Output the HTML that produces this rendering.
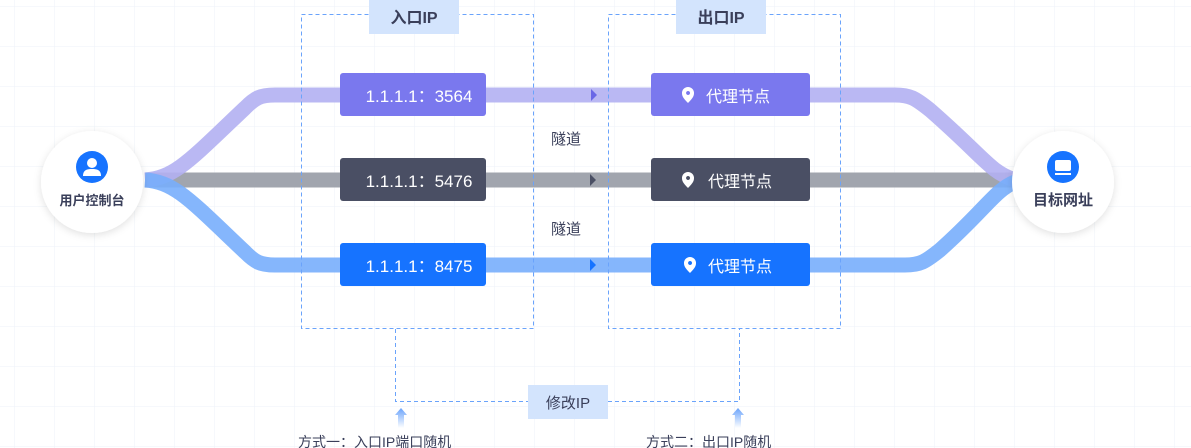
<!DOCTYPE html>
<html><head><meta charset="utf-8"><style>
body{margin:0;width:1191px;height:448px;overflow:hidden;background:#fff;font-family:"Liberation Sans","Noto Sans CJK SC",sans-serif;}
svg{display:block}
</style></head><body>
<svg width="1191" height="448" xmlns="http://www.w3.org/2000/svg" font-family="Liberation Sans, Noto Sans CJK SC, sans-serif">
<defs>
<pattern id="g" x="14" y="6" width="40" height="40" patternUnits="userSpaceOnUse">
<path d="M0 0V40M0 0H40" stroke="#edf2f8" stroke-width="1" fill="none"/>
</pattern>
<filter id="sh" x="-30%" y="-30%" width="160%" height="160%"><feDropShadow dx="0" dy="2" stdDeviation="4" flood-color="#000" flood-opacity="0.12"/></filter>
<linearGradient id="ua" x1="0" y1="0" x2="0" y2="1"><stop offset="0" stop-color="#6aa3fb"/><stop offset="1" stop-color="#6aa3fb" stop-opacity="0"/></linearGradient>
</defs>
<rect width="1191" height="448" fill="url(#g)"/>
<g fill="none" stroke-width="15" stroke-linejoin="round">
<path d="M145 180 H1015" stroke="#a1a5ae"/>
<path d="M145 180 C175 178,190 160,245 108 C255 98,260 95,275 95 H895 C910 95,915 98,930 110 C985 158,990 172,1015 180" stroke="#b3b0f2" opacity="0.9"/>
<path d="M145 180 C175 182,190 200,245 252 C255 262,260 265,275 265 H905 C920 265,925 262,940 250 C985 210,995 190,1015 182" stroke="#78aefc" opacity="0.9"/>
</g>
<g fill="none" stroke="#6aa3fb" stroke-dasharray="4 3" stroke-width="1">
<rect x="301.5" y="14.5" width="232" height="314"/>
<rect x="608.5" y="14.5" width="232" height="314"/>
<path d="M395.5 329 V401.5 H528 M608 401.5 H739.5 V329"/>
</g>
<rect x="369" y="0" width="90" height="34" fill="#d3e4fd"/>
<rect x="676" y="0" width="90" height="34" fill="#d3e4fd"/>
<text x="414" y="23" text-anchor="middle" font-size="16" font-weight="bold" fill="#3a3f5a">入口IP</text>
<text x="721" y="23" text-anchor="middle" font-size="16" font-weight="bold" fill="#3a3f5a">出口IP</text>
<rect x="340" y="73" width="146" height="43" rx="3" fill="#7a78ee"/>
<rect x="340" y="158" width="146" height="43" rx="3" fill="#4a4f64"/>
<rect x="340" y="243" width="146" height="43" rx="3" fill="#1673ff"/>
<g font-size="17" fill="#fff" text-anchor="middle">
<text x="419" y="102">1.1.1.1：3564</text>
<text x="419" y="187">1.1.1.1：5476</text>
<text x="419" y="272">1.1.1.1：8475</text>
</g>
<rect x="651" y="73" width="159" height="43" rx="3" fill="#7a78ee"/>
<rect x="651" y="158" width="159" height="43" rx="3" fill="#4a4f64"/>
<rect x="651" y="243" width="159" height="43" rx="3" fill="#1673ff"/>
<g fill="#fff">
<path d="M688 103 C683 98,682 96,682 93 A6 6 0 0 1 694 93 C694 96,693 98,688 103Z M688 91 a2 2 0 1 0 0.1 0Z" fill-rule="evenodd"/>
<path d="M688 188 C683 183,682 181,682 178 A6 6 0 0 1 694 178 C694 181,693 183,688 188Z M688 176 a2 2 0 1 0 0.1 0Z" fill-rule="evenodd"/>
<path d="M690 273 C685 268,684 266,684 263 A6 6 0 0 1 696 263 C696 266,695 268,690 273Z M690 261 a2 2 0 1 0 0.1 0Z" fill-rule="evenodd"/>
</g>
<g font-size="16" fill="#fff">
<text x="706" y="102">代理节点</text>
<text x="708" y="187">代理节点</text>
<text x="708" y="272">代理节点</text>
</g>
<g fill="#4a4f64">
<path d="M591 89 L597 95 L591 101Z" fill="#6a67e6"/>
<path d="M590 174 L596 180 L590 186Z"/>
<path d="M590 259 L596 265 L590 271Z" fill="#1673ff"/>
</g>
<text x="566" y="144" text-anchor="middle" font-size="15" fill="#3a3f5a">隧道</text>
<text x="566" y="234" text-anchor="middle" font-size="15" fill="#3a3f5a">隧道</text>
<circle cx="92" cy="182" r="51" fill="#fff" filter="url(#sh)"/>
<circle cx="92" cy="167" r="16" fill="#1673ff"/>
<circle cx="92" cy="163" r="5" fill="#fff"/>
<path d="M83 176 C83 170,87 169,92 169 C97 169,101 170,101 176Z" fill="#fff"/>
<text x="92" y="205" text-anchor="middle" font-size="13" font-weight="bold" fill="#3a3f5a">用户控制台</text>
<circle cx="1063" cy="182" r="51" fill="#fff" filter="url(#sh)"/>
<circle cx="1063" cy="167" r="16" fill="#1673ff"/>
<rect x="1055" y="160" width="16" height="11" rx="2" fill="#fff"/>
<rect x="1055" y="173" width="16" height="2" fill="#fff"/>
<text x="1063" y="205" text-anchor="middle" font-size="15" font-weight="bold" fill="#3a3f5a">目标网址</text>
<rect x="528" y="385" width="80" height="34" fill="#d3e4fd"/>
<text x="568" y="408" text-anchor="middle" font-size="15" fill="#3a3f5a">修改IP</text>
<path d="M401 408 L407 415 H404 V428 H398 V415 H395Z" fill="url(#ua)"/>
<path d="M738 408 L744 415 H741 V428 H735 V415 H732Z" fill="url(#ua)"/>
<text x="298" y="447" font-size="14" fill="#3a3f5a">方式一：入口IP端口随机</text>
<text x="646" y="447" font-size="14" fill="#3a3f5a">方式二：出口IP随机</text>
</svg>
</body></html>
